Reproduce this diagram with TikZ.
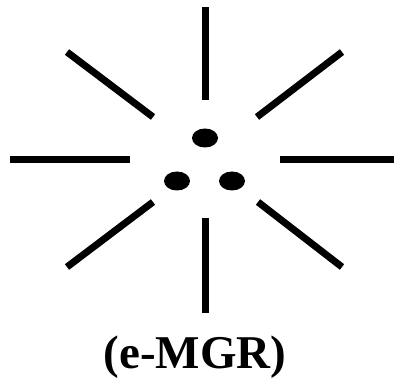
\documentclass[tikz,border=0pt]{standalone}
\usepackage{fontspec}
\setmainfont{Liberation Serif}
\usepackage{tikz}
\usetikzlibrary{shapes.geometric}

\begin{document}
\begin{tikzpicture}[x=1pt,y=-1pt,
    ray/.style={line width=7pt,black},
    dot/.style={ellipse,fill=black,inner sep=0pt,minimum width=26pt,minimum height=19pt},
    caption/.style={font=\fontsize{47}{51}\selectfont\bfseries,inner sep=0pt}]
  \useasboundingbox (0,0) rectangle (394,385);
  % three electrons in the middle
  \node[dot] (etop) at (205,138) {};
  \node[dot] (eleft) at (177,181) {};
  \node[dot] (eright) at (232,181) {};
  % rays
  \foreach \ax/\ay/\bx/\by in {205/7/205/100, 205/218/205/313, 10/160/130/160, 280/160/394/160,
      67/52/153/117, 342/52/257/117, 153/202/67/267, 258/202/342/267}
    \draw[ray] (\ax,\ay) -- (\bx,\by);
  \node[caption] (label) at (195,357) {(e-MGR)};
\end{tikzpicture}
\end{document}
